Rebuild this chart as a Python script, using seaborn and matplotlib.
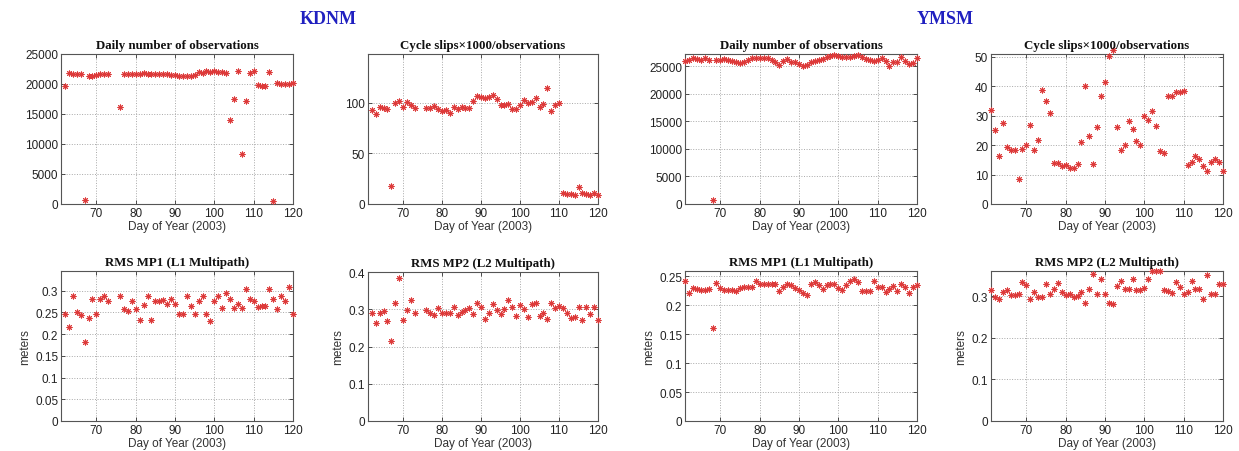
import numpy as np
import pandas as pd
import matplotlib
matplotlib.use("Agg")
import matplotlib.pyplot as plt
import seaborn as sns

# ---------------- data ----------------
kdnm_days = [62, 63, 64, 65, 66, 67, 68, 69, 70, 71, 72, 73,
             76, 77, 78, 79, 80, 81, 82, 83, 84, 85, 86, 87, 88, 89, 90,
             91, 92, 93, 94, 95, 96, 97, 98, 99, 100, 101, 102, 103, 104,
             105, 106, 107, 108, 109, 110, 111, 112, 113, 114, 115, 116,
             117, 118, 119, 120]
ymsm_days = list(range(61, 121))

kdnm_obs = [19700, 21800, 21700, 21600, 21600, 700, 21400, 21300, 21500, 21600, 21600, 21700,
            16100, 21700, 21700, 21700, 21700, 21700, 21800, 21700, 21700, 21700, 21600, 21700,
            21600, 21500, 21500, 21400, 21400, 21400, 21300, 21500, 22000, 21800, 22100, 22000,
            22100, 22000, 22000, 21800, 14000, 17500, 22100, 8300, 17200, 21900, 22100, 19900,
            19700, 19700, 22000, 500, 20100, 20000, 20000, 20000, 20100]

kdnm_slips = [93, 89, 96, 95, 94, 18, 100, 102, 96, 101, 98, 95,
              95, 95, 97, 94, 92, 93, 90, 96, 94, 96, 95, 95, 102, 107, 106,
              105, 106, 108, 104, 98, 98, 99, 94, 94, 98, 103, 100, 101, 105,
              96, 99, 114, 92, 98, 100, 11, 10, 10, 9, 17, 11,
              10, 9, 11, 9]

kdnm_mp1 = [0.245, 0.217, 0.288, 0.251, 0.244, 0.182, 0.238, 0.281, 0.247, 0.281, 0.288, 0.275,
            0.288, 0.258, 0.253, 0.275, 0.258, 0.233, 0.267, 0.288, 0.233, 0.277, 0.275, 0.279,
            0.268, 0.281, 0.268, 0.245, 0.245, 0.288, 0.264, 0.247, 0.277, 0.288, 0.245, 0.229,
            0.275, 0.288, 0.261, 0.294, 0.281, 0.259, 0.270, 0.259, 0.303, 0.280, 0.275, 0.263,
            0.264, 0.264, 0.303, 0.280, 0.257, 0.287, 0.276, 0.309, 0.247]

kdnm_mp2 = [0.289, 0.262, 0.289, 0.295, 0.268, 0.216, 0.316, 0.383, 0.271, 0.298, 0.326, 0.289,
            0.298, 0.291, 0.285, 0.303, 0.289, 0.289, 0.289, 0.305, 0.285, 0.292, 0.298, 0.303,
            0.287, 0.318, 0.307, 0.273, 0.289, 0.314, 0.298, 0.287, 0.300, 0.325, 0.305, 0.283,
            0.311, 0.300, 0.278, 0.314, 0.318, 0.283, 0.291, 0.275, 0.316, 0.303, 0.309, 0.303,
            0.291, 0.276, 0.280, 0.305, 0.271, 0.307, 0.287, 0.307, 0.270]

ymsm_obs = [26000, 26200, 26400, 26300, 26200, 26400, 26100, 800, 26200, 26100,
            26300, 26200, 26000, 25700, 25500, 25700, 26200, 26500, 26400, 26400,
            26500, 26400, 26200, 25800, 25200, 26000, 26300, 25800, 25700, 25400,
            25100, 25200, 25800, 26000, 26200, 26300, 26600, 26900, 27000, 26800,
            26700, 26700, 26600, 26800, 27100, 26700, 26300, 26200, 25900, 26100,
            26400, 25900, 25000, 25700, 25800, 26700, 26000, 25300, 25500, 26500]

ymsm_slips = [31.8, 25.2, 16.4, 27.5, 19.3, 18.2, 18.5, 8.5, 18.6, 19.9,
              26.8, 18.5, 21.7, 38.9, 35.0, 31.1, 13.9, 13.9, 12.9, 13.3,
              12.4, 12.4, 13.6, 21.2, 40.0, 23.1, 13.6, 26.2, 36.6, 41.6,
              50.3, 52.3, 26.2, 18.2, 19.9, 28.3, 25.6, 21.4, 20.1, 30.0,
              28.5, 31.5, 26.6, 18.1, 17.3, 36.6, 36.6, 38.1, 38.1, 38.3,
              13.3, 14.4, 16.2, 15.2, 12.9, 11.2, 14.4, 15.2, 14.3, 11.3]

ymsm_mp1 = [0.242, 0.221, 0.230, 0.228, 0.227, 0.227, 0.228, 0.160, 0.238, 0.230,
            0.227, 0.227, 0.227, 0.224, 0.229, 0.232, 0.232, 0.232, 0.241, 0.237,
            0.236, 0.236, 0.236, 0.236, 0.224, 0.232, 0.237, 0.234, 0.230, 0.227,
            0.221, 0.217, 0.237, 0.240, 0.234, 0.228, 0.234, 0.236, 0.236, 0.230,
            0.227, 0.234, 0.242, 0.245, 0.240, 0.225, 0.225, 0.225, 0.242, 0.232,
            0.232, 0.223, 0.228, 0.233, 0.225, 0.236, 0.232, 0.221, 0.232, 0.234]

ymsm_mp2 = [0.314, 0.298, 0.294, 0.310, 0.314, 0.302, 0.302, 0.306, 0.334, 0.326,
            0.292, 0.310, 0.298, 0.298, 0.330, 0.306, 0.316, 0.332, 0.310, 0.302,
            0.306, 0.298, 0.300, 0.310, 0.284, 0.316, 0.352, 0.306, 0.340, 0.306,
            0.284, 0.282, 0.324, 0.336, 0.318, 0.318, 0.342, 0.314, 0.314, 0.320,
            0.340, 0.360, 0.360, 0.360, 0.314, 0.312, 0.308, 0.334, 0.322, 0.306,
            0.310, 0.336, 0.318, 0.318, 0.292, 0.350, 0.304, 0.306, 0.330, 0.330]

station_names = ["KDNM", "YMSM"]
panel_titles = ["Daily number of observations", "Cycle slips\u00d71000/observations",
                "RMS MP1 (L1 Multipath)", "RMS MP2 (L2 Multipath)"]
x_label = "Day of Year (2003)"
y_label = "meters"

# ---------------- styling ----------------
sns.set_theme(style="white")
plt.rcParams["font.family"] = ["Liberation Sans", "DejaVu Sans"]

MARKER_COLOR = "#dd3a3a"
ASTERISK = (8, 2, 0)
W, H = 1239, 452

fig = plt.figure(figsize=(W / 100, H / 100), dpi=100)


def frac(left, top, right, bottom):
    return [left / W, 1 - bottom / H, (right - left) / W, (bottom - top) / H]


panels = [
    # (rect, days, values, title, ylim, yticks, ticklabels, ylabel)
    (frac(61, 55, 293, 205), kdnm_days, kdnm_obs, panel_titles[0], (0, 25000),
     [0, 5000, 10000, 15000, 20000, 25000], None, False),
    (frac(368, 55, 598, 205), kdnm_days, kdnm_slips, panel_titles[1], (0, 148),
     [0, 50, 100], None, False),
    (frac(685, 55, 917, 205), ymsm_days, ymsm_obs, panel_titles[0], (0, 27200),
     [0, 5000, 10000, 15000, 20000, 25000], None, False),
    (frac(991, 55, 1223, 205), ymsm_days, ymsm_slips, panel_titles[1], (0, 51),
     [0, 10, 20, 30, 40, 50], None, False),
    (frac(61, 272, 293, 422), kdnm_days, kdnm_mp1, panel_titles[2], (0, 0.345),
     [0, 0.05, 0.1, 0.15, 0.2, 0.25, 0.3], ["0", "0.05", "0.1", "0.15", "0.2", "0.25", "0.3"], True),
    (frac(368, 273, 598, 422), kdnm_days, kdnm_mp2, panel_titles[3], (0, 0.4),
     [0, 0.1, 0.2, 0.3, 0.4], ["0", "0.1", "0.2", "0.3", "0.4"], True),
    (frac(685, 272, 917, 422), ymsm_days, ymsm_mp1, panel_titles[2], (0, 0.259),
     [0, 0.05, 0.1, 0.15, 0.2, 0.25], ["0", "0.05", "0.1", "0.15", "0.2", "0.25"], True),
    (frac(991, 272, 1223, 422), ymsm_days, ymsm_mp2, panel_titles[3], (0, 0.36),
     [0, 0.1, 0.2, 0.3], ["0", "0.1", "0.2", "0.3"], True),
]

for rect, days, vals, title, ylim, yticks, ylabels, show_ylabel in panels:
    ax = fig.add_axes(rect)
    df = pd.DataFrame({"day": days, "value": vals})
    sns.scatterplot(data=df, x="day", y="value", ax=ax, marker=ASTERISK,
                    color=MARKER_COLOR, edgecolor=MARKER_COLOR, s=14,
                    linewidth=0.7, clip_on=False, zorder=3, legend=False)
    ax.set_xlim(61, 120)
    ax.set_ylim(*ylim)
    ax.set_xticks([70, 80, 90, 100, 110, 120])
    ax.set_yticks(yticks)
    if ylabels is not None:
        ax.set_yticklabels(ylabels)
    ax.grid(True, linestyle=":", color="#a8a8a8", linewidth=0.7)
    ax.set_axisbelow(True)
    for sp in ax.spines.values():
        sp.set_color("#555555")
        sp.set_linewidth(0.8)
    ax.tick_params(axis="both", direction="in", length=3, width=0.6,
                   labelsize=8.5, colors="#333333", pad=2,
                   top=True, right=True, bottom=True, left=True)
    ax.tick_params(axis="both", labelcolor="#222222")
    ax.set_title(title, fontsize=9.3, fontweight="bold",
                 family=["Liberation Serif", "DejaVu Serif"], color="#111111", pad=4)
    ax.set_xlabel(x_label, fontsize=8.5, color="#333333", labelpad=1)
    ax.set_ylabel(y_label if show_ylabel else "", fontsize=8.5, color="#333333", labelpad=3)

fig.text(328 / W, 1 - 20 / H, station_names[0], ha="center", va="center",
         fontsize=13, fontweight="bold", color="#2020c0",
         family=["Liberation Serif", "DejaVu Serif"])
fig.text(945 / W, 1 - 20 / H, station_names[1], ha="center", va="center",
         fontsize=13, fontweight="bold", color="#2020c0",
         family=["Liberation Serif", "DejaVu Serif"])

fig.savefig("out.png", dpi=100, facecolor="white")
